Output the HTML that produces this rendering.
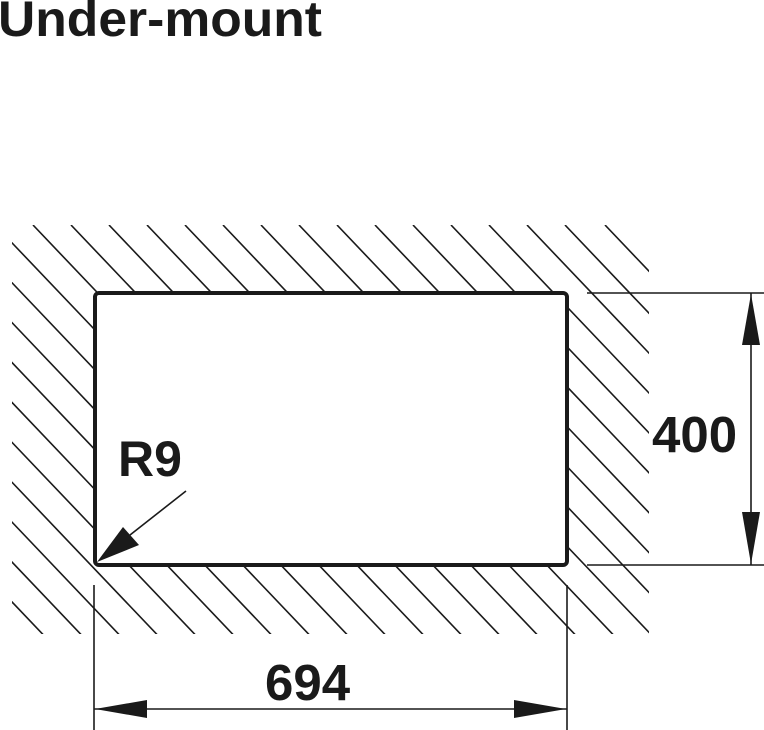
<!DOCTYPE html>
<html><head><meta charset="utf-8"><style>
html,body{margin:0;padding:0;background:#fff;}
svg{display:block;}
text{font-family:"Liberation Sans",Arial,sans-serif;font-weight:bold;fill:#1a1a1a;}
</style></head><body>
<svg width="764" height="730" viewBox="0 0 764 730" xmlns="http://www.w3.org/2000/svg">
<defs>
<clipPath id="hc">
<path clip-rule="evenodd" d="M12 225 H649 V634 H12 Z M95 293 H567 V565 H95 Z"/>
</clipPath>
</defs>
<text x="-2" y="36" font-size="50" textLength="324" lengthAdjust="spacingAndGlyphs">Under-mount</text>
<g clip-path="url(#hc)" stroke="#1a1a1a" stroke-width="1.6">
<line x1="-423" y1="225" x2="77" y2="750"/>
<line x1="-385" y1="225" x2="115" y2="750"/>
<line x1="-347" y1="225" x2="153" y2="750"/>
<line x1="-309" y1="225" x2="191" y2="750"/>
<line x1="-271" y1="225" x2="229" y2="750"/>
<line x1="-233" y1="225" x2="267" y2="750"/>
<line x1="-195" y1="225" x2="305" y2="750"/>
<line x1="-157" y1="225" x2="343" y2="750"/>
<line x1="-119" y1="225" x2="381" y2="750"/>
<line x1="-81" y1="225" x2="419" y2="750"/>
<line x1="-43" y1="225" x2="457" y2="750"/>
<line x1="-5" y1="225" x2="495" y2="750"/>
<line x1="33" y1="225" x2="533" y2="750"/>
<line x1="71" y1="225" x2="571" y2="750"/>
<line x1="109" y1="225" x2="609" y2="750"/>
<line x1="147" y1="225" x2="647" y2="750"/>
<line x1="185" y1="225" x2="685" y2="750"/>
<line x1="223" y1="225" x2="723" y2="750"/>
<line x1="261" y1="225" x2="761" y2="750"/>
<line x1="299" y1="225" x2="799" y2="750"/>
<line x1="337" y1="225" x2="837" y2="750"/>
<line x1="375" y1="225" x2="875" y2="750"/>
<line x1="413" y1="225" x2="913" y2="750"/>
<line x1="451" y1="225" x2="951" y2="750"/>
<line x1="489" y1="225" x2="989" y2="750"/>
<line x1="527" y1="225" x2="1027" y2="750"/>
<line x1="565" y1="225" x2="1065" y2="750"/>
<line x1="605" y1="225" x2="1105" y2="750"/>
</g>
<rect x="95" y="293" width="472" height="272" rx="4" fill="none" stroke="#1a1a1a" stroke-width="4"/>
<g stroke="#1a1a1a" stroke-width="1.6">
<line x1="587" y1="293" x2="764" y2="293"/>
<line x1="587" y1="565" x2="764" y2="565"/>
<line x1="751" y1="293" x2="751" y2="565"/>
<line x1="94" y1="585" x2="94" y2="730"/>
<line x1="567" y1="585" x2="567" y2="730"/>
<line x1="94" y1="709" x2="567" y2="709"/>
<line x1="186" y1="491" x2="130" y2="535"/>
</g>
<g fill="#1a1a1a">
<polygon points="751,294 742,345 760,345"/>
<polygon points="751,564 742,512 760,512"/>
<polygon points="95,709 147,700 147,718"/>
<polygon points="566,709 514,700 514,718"/>
<polygon points="97,562 123,527 139,545"/>
</g>
<text x="652" y="452" font-size="51">400</text>
<text x="118" y="476" font-size="50">R9</text>
<text x="265" y="700" font-size="51">694</text>
</svg>
</body></html>
